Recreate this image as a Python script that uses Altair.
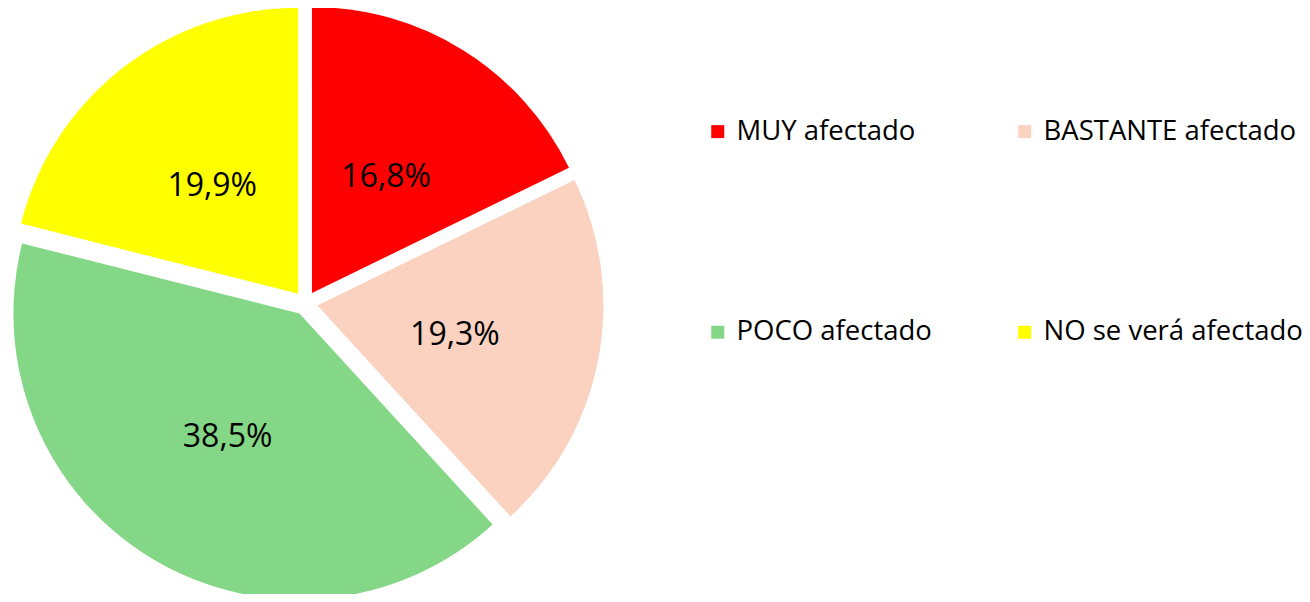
import altair as alt
import pandas as pd

categories = ["MUY afectado", "BASTANTE afectado", "POCO afectado", "NO se verá afectado"]
values = [16.8, 19.3, 38.5, 19.9]
colors = ["#FF0000", "#FBD1C0", "#84D786", "#FFFF00"]

CX, CY = 297.6, 295.2   # pie centre (chart coordinates)
R = 286                 # pie radius
D = 12                  # explosion distance
LR = 140                # label radius

df = pd.DataFrame({"cat": categories, "value": values, "ord": list(range(len(values)))})

base = alt.Chart(df).transform_joinaggregate(
    total="sum(value)"
).transform_window(
    cum="sum(value)", sort=[alt.SortField("ord")], frame=[None, 0]
).transform_calculate(
    start="2*PI*(datum.cum - datum.value)/datum.total",
    end="2*PI*datum.cum/datum.total",
).transform_calculate(
    mid="(datum.start + datum.end)/2",
).transform_calculate(
    px=f"{CX} + {D}*sin(datum.mid)",
    py=f"{CY} - {D}*cos(datum.mid)",
    label="replace(format(datum.value, '.1f'), '.', ',') + '%'",
)

arcs = base.mark_arc(outerRadius=R, strokeWidth=0).encode(
    x=alt.X("px:Q", scale=None, axis=None),
    y=alt.Y("py:Q", scale=None, axis=None),
    theta=alt.Theta("start:Q", scale=None, stack=False),
    theta2="end:Q",
    color=alt.Color(
        "cat:N",
        scale=alt.Scale(domain=categories, range=colors),
        legend=alt.Legend(
            title=None,
            orient="none",
            direction="horizontal",
            legendX=696,
            legendY=109.5,
            columns=2,
            columnPadding=79,
            rowPadding=172,
            symbolType="square",
            symbolSize=169,
            symbolStrokeWidth=0,
            symbolOpacity=1,
            labelFont="Open Sans",
            labelFontSize=27.5,
            labelColor="#000000",
            labelOffset=5,
            labelLimit=500,
        ),
    ),
)

labels = base.mark_text(
    font="Open Sans", fontSize=32, color="#000000", align="center", baseline="middle", dy=3
).encode(
    x=alt.X("px:Q", scale=None, axis=None),
    y=alt.Y("py:Q", scale=None, axis=None),
    theta=alt.Theta("mid:Q", scale=None, stack=False),
    radius=alt.value(LR),
    text="label:N",
)

chart = alt.layer(arcs, labels).properties(
    width=1294,
    height=586,
    padding=0,
    autosize=alt.AutoSizeParams(type="none"),
).configure_view(stroke=None)

chart.save("out.html", embed_options={"renderer": "svg", "actions": False})
